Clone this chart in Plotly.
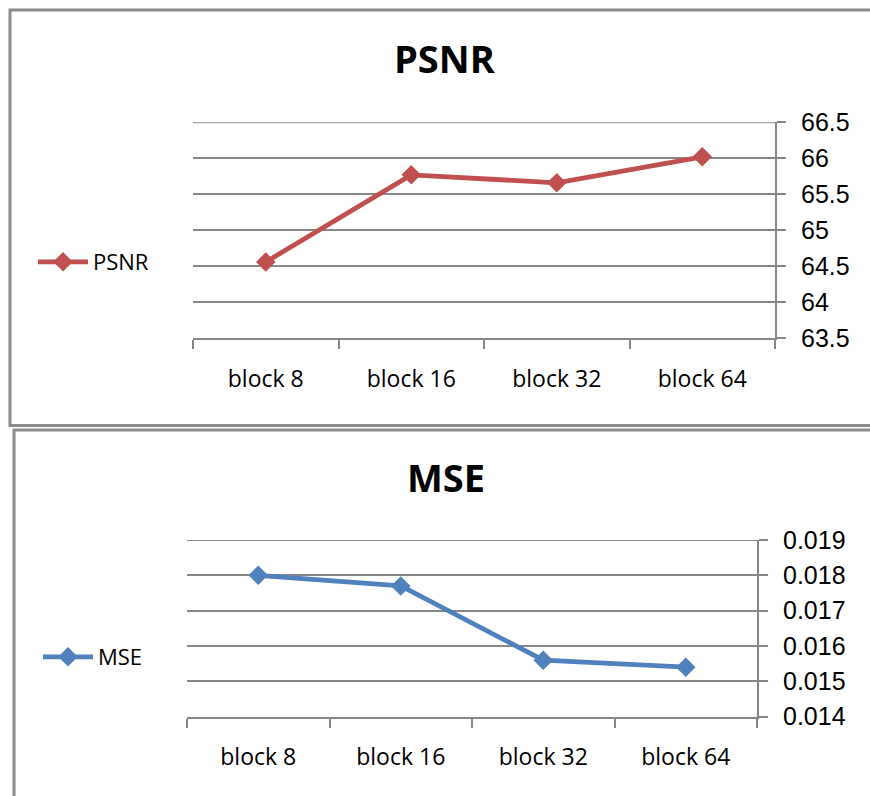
import plotly.graph_objects as go

# Figure size in pixels
W, H = 870, 796

# Data
categories = ["block 8", "block 16", "block 32", "block 64"]
psnr_values = [64.56, 65.77, 65.66, 66.02]
mse_values = [0.0180, 0.0177, 0.0156, 0.0154]

psnr_tickvals = [63.5, 64, 64.5, 65, 65.5, 66, 66.5]
psnr_ticktext = ["63.5", "64", "64.5", "65", "65.5", "66", "66.5"]
mse_tickvals = [0.014, 0.015, 0.016, 0.017, 0.018, 0.019]
mse_ticktext = ["0.014", "0.015", "0.016", "0.017", "0.018", "0.019"]

PSNR_COLOR = "#C0504D"
MSE_COLOR = "#4F81BD"
GRID = "#878787"
FRAME = "#8C8C8C"


def fx(px):
    """pixel column -> paper x"""
    return px / W


def fy(py):
    """pixel row (from top) -> paper y"""
    return 1 - py / H


fig = go.Figure()

fig.add_trace(go.Scatter(
    x=categories, y=psnr_values, name="PSNR", mode="lines+markers",
    line=dict(color=PSNR_COLOR, width=4.8),
    marker=dict(symbol="diamond", size=15, color=PSNR_COLOR),
    xaxis="x", yaxis="y", legend="legend",
))
fig.add_trace(go.Scatter(
    x=categories, y=mse_values, name="MSE", mode="lines+markers",
    line=dict(color=MSE_COLOR, width=4.8),
    marker=dict(symbol="diamond", size=15, color=MSE_COLOR),
    xaxis="x2", yaxis="y2", legend="legend2",
))


def x_axis(domain, anchor):
    return dict(
        domain=domain, anchor=anchor, type="category", range=[-0.5, 3.5],
        showgrid=False, zeroline=False,
        showline=True, linecolor=GRID, linewidth=2,
        ticks="outside", ticklen=9, tickwidth=2, tickcolor=GRID,
        tickson="boundaries",
        tickfont=dict(family="Open Sans", size=23, color="black"),
        ticklabelstandoff=19, fixedrange=True, automargin=False,
    )


def y_axis(domain, anchor, rng, vals, text):
    return dict(
        domain=domain, anchor=anchor, side="right", range=rng,
        tickmode="array", tickvals=vals, ticktext=text,
        showgrid=True, gridcolor=GRID, gridwidth=2, zeroline=False,
        showline=True, linecolor=GRID, linewidth=2,
        ticks="outside", ticklen=9, tickwidth=2, tickcolor=GRID,
        tickfont=dict(family="Liberation Sans", size=25, color="black"),
        ticklabelstandoff=10, fixedrange=True, automargin=False,
    )


legend_style = dict(
    xanchor="left", yanchor="middle",
    font=dict(family="Open Sans", size=22, color="black"),
    bgcolor="rgba(0,0,0,0)", borderwidth=0, itemwidth=50,
)

fig.update_layout(
    width=W, height=H, autosize=False,
    margin=dict(l=0, r=0, t=0, b=0, pad=0, autoexpand=False),
    paper_bgcolor="white", plot_bgcolor="white",
    xaxis=x_axis([fx(193), fx(775)], "y"),
    yaxis=y_axis([fy(338.3), fy(122.3)], "x", [63.5, 66.5],
                 psnr_tickvals, psnr_ticktext),
    xaxis2=x_axis([fx(187), fx(757)], "y2"),
    yaxis2=y_axis([fy(716.7), fy(540)], "x2", [0.014, 0.019],
                  mse_tickvals, mse_ticktext),
    legend=dict(x=fx(33), y=fy(262), **legend_style),
    legend2=dict(x=fx(38), y=fy(657), **legend_style),
    showlegend=True,
)

# Gridline at the top of each value range (plotly leaves the range end bare)
for xref, yref, top in [("x domain", "y", psnr_tickvals[-1]),
                        ("x2 domain", "y2", mse_tickvals[-1])]:
    fig.add_shape(type="line", xref=xref, yref=yref, x0=0, x1=1, y0=top, y1=top,
                  line=dict(color=GRID, width=2), layer="below")

# Chart titles
for label, cx, cy in [("PSNR", 445, 58), ("MSE", 446, 477)]:
    fig.add_annotation(
        text=f"<b>{label}</b>", x=fx(cx), y=fy(cy), xref="paper", yref="paper",
        xanchor="center", yanchor="middle", showarrow=False,
        font=dict(family="Open Sans", size=38, color="black"),
    )

# Chart frames
fig.add_shape(type="rect", xref="paper", yref="paper",
              x0=fx(10), y0=fy(425.5), x1=fx(885), y1=fy(10),
              line=dict(color=FRAME, width=3), layer="below")
fig.add_shape(type="rect", xref="paper", yref="paper",
              x0=fx(14), y0=fy(815), x1=fx(885), y1=fy(430),
              line=dict(color=FRAME, width=3), layer="below")

fig.write_html("out.html")
